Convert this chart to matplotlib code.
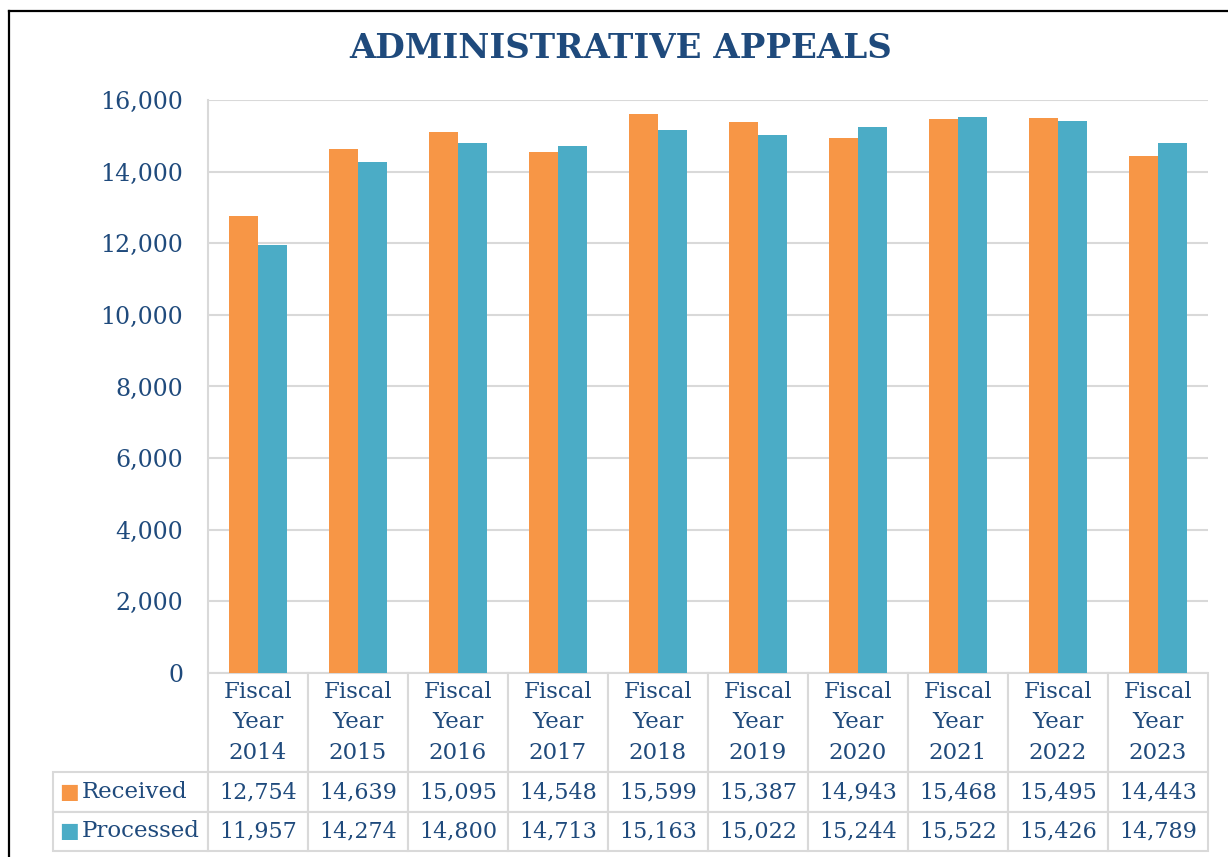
import matplotlib.pyplot as plt
from matplotlib.lines import Line2D
import numpy as np

# data
years = ['2014', '2015', '2016', '2017', '2018', '2019', '2020', '2021', '2022', '2023']
received = [12754, 14639, 15095, 14548, 15599, 15387, 14943, 15468, 15495, 14443]
processed = [11957, 14274, 14800, 14713, 15163, 15022, 15244, 15522, 15426, 14789]
series_names = ['Received', 'Processed']

orange = '#F79646'
teal = '#4BACC6'
txt = '#1F4A7C'
grid_c = '#D9D9D9'

plt.rcParams['font.family'] = ['DejaVu Serif']

W, H = 1228, 857
fig = plt.figure(figsize=(W / 100, H / 100), dpi=100)
ax = fig.add_axes([208 / W, (H - 673) / H, 1000 / W, 573 / H])

x = np.arange(len(years))
bw = 0.29
ax.bar(x - bw / 2, received, bw, color=orange, zorder=3)
ax.bar(x + bw / 2, processed, bw, color=teal, zorder=3)

ax.set_xlim(-0.5, len(years) - 0.5)
ax.set_ylim(0, 16000)
ax.set_yticks(range(0, 16001, 2000))
ax.set_yticklabels([f'{v:,}' for v in range(0, 16001, 2000)], fontsize=17, color=txt)
ax.tick_params(axis='y', length=0, pad=18)
ax.set_xticks([])
ax.grid(axis='y', color=grid_c, lw=1.5)
ax.set_axisbelow(True)
for s in ['top', 'right', 'bottom']:
    ax.spines[s].set_visible(False)
ax.spines['left'].set_color(grid_c)
ax.spines['left'].set_linewidth(1.5)

# data table under the chart
header = [''] + [f'Fiscal\nYear\n{y}' for y in years]
rows = [header,
        [''] + [f'{v:,}' for v in received],
        [''] + [f'{v:,}' for v in processed]]
col_w = [155] + [100] * len(years)
tbl = ax.table(cellText=rows, colWidths=col_w, cellLoc='center',
               bbox=[-0.155, -0.3106, 1.155, 0.3106])
tbl.auto_set_font_size(False)
tbl.set_fontsize(16)
row_h = [99, 40, 39]
for (r, c), cell in tbl.get_celld().items():
    cell.set_height(row_h[r])
    cell.set_edgecolor(grid_c)
    cell.set_linewidth(1.5)
    cell.get_text().set_color(txt)
    if r == 0:
        cell.get_text().set_linespacing(1.5)
        cell.get_text().set_fontsize(16.5)
    if r == 0 and c == 0:
        cell.visible_edges = ''

# legend keys inside the table
for name, col, yy in zip(series_names, [orange, teal], [-0.2077, -0.2757]):
    ax.text(-0.139, yy, '\u25A0', color=col, fontsize=15, ha='center', va='center',
            transform=ax.transAxes, family=['DejaVu Sans'])
    ax.text(-0.126, yy, name, color=txt, fontsize=16.5, ha='left', va='center',
            transform=ax.transAxes)

fig.text(621 / W, 1 - 48 / H, 'ADMINISTRATIVE APPEALS', fontsize=24.5, fontweight='bold',
         color=txt, ha='center', va='center')

# outer border
fig.add_artist(Line2D([9 / W, 9 / W], [0, 1 - 11 / H], color='black', lw=1.6))
fig.add_artist(Line2D([9 / W, 1], [1 - 11 / H, 1 - 11 / H], color='black', lw=1.6))

fig.savefig('out.png', dpi=100)
